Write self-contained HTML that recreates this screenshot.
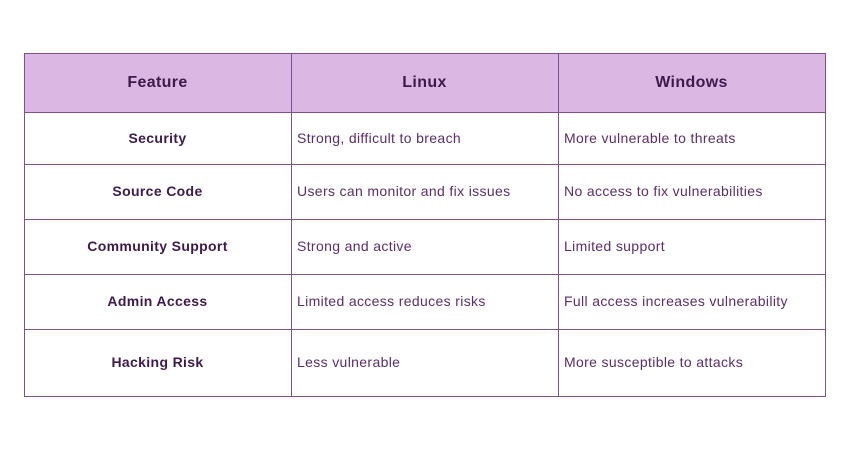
<!DOCTYPE html>
<html><head><style>
body{margin:0;width:850px;height:450px;background:#fff;position:relative;font-family:"Liberation Sans",sans-serif;overflow:hidden}
.h{position:absolute;left:24px;top:53px;width:801px;height:59px;background:#dbb8e4}
.l{position:absolute;background:#7d4f8c}
.t{position:absolute;font-size:14px;color:#5b2d6b;white-space:nowrap;letter-spacing:0.35px}
.b{font-weight:bold;color:#3e1a4c;text-align:center;width:267px}
.hd{font-size:16px}
</style></head><body>
<div class="h"></div>
<div class="l" style="left:24px;top:53px;width:802px;height:1px"></div>
<div class="l" style="left:24px;top:112px;width:802px;height:1px"></div>
<div class="l" style="left:24px;top:164px;width:802px;height:1px"></div>
<div class="l" style="left:24px;top:219px;width:802px;height:1px"></div>
<div class="l" style="left:24px;top:274px;width:802px;height:1px"></div>
<div class="l" style="left:24px;top:329px;width:802px;height:1px"></div>
<div class="l" style="left:24px;top:396px;width:802px;height:1px"></div>
<div class="l" style="left:24px;top:53px;width:1px;height:344px"></div>
<div class="l" style="left:291px;top:53px;width:1px;height:344px"></div>
<div class="l" style="left:558px;top:53px;width:1px;height:344px"></div>
<div class="l" style="left:825px;top:53px;width:1px;height:344px"></div>

<div class="t b hd" style="left:24px;top:74px">Feature</div>
<div class="t b hd" style="left:291px;top:74px">Linux</div>
<div class="t b hd" style="left:558px;top:74px">Windows</div>

<div class="t b" style="left:24px;top:130px">Security</div>
<div class="t" style="left:297px;top:130px">Strong, difficult to breach</div>
<div class="t" style="left:564px;top:130px">More vulnerable to threats</div>

<div class="t b" style="left:24px;top:183px">Source Code</div>
<div class="t" style="left:297px;top:183px">Users can monitor and fix issues</div>
<div class="t" style="left:564px;top:183px">No access to fix vulnerabilities</div>

<div class="t b" style="left:24px;top:238px">Community Support</div>
<div class="t" style="left:297px;top:238px">Strong and active</div>
<div class="t" style="left:564px;top:238px">Limited support</div>

<div class="t b" style="left:24px;top:293px">Admin Access</div>
<div class="t" style="left:297px;top:293px">Limited access reduces risks</div>
<div class="t" style="left:564px;top:293px">Full access increases vulnerability</div>

<div class="t b" style="left:24px;top:354px">Hacking Risk</div>
<div class="t" style="left:297px;top:354px">Less vulnerable</div>
<div class="t" style="left:564px;top:354px">More susceptible to attacks</div>
</body></html>
